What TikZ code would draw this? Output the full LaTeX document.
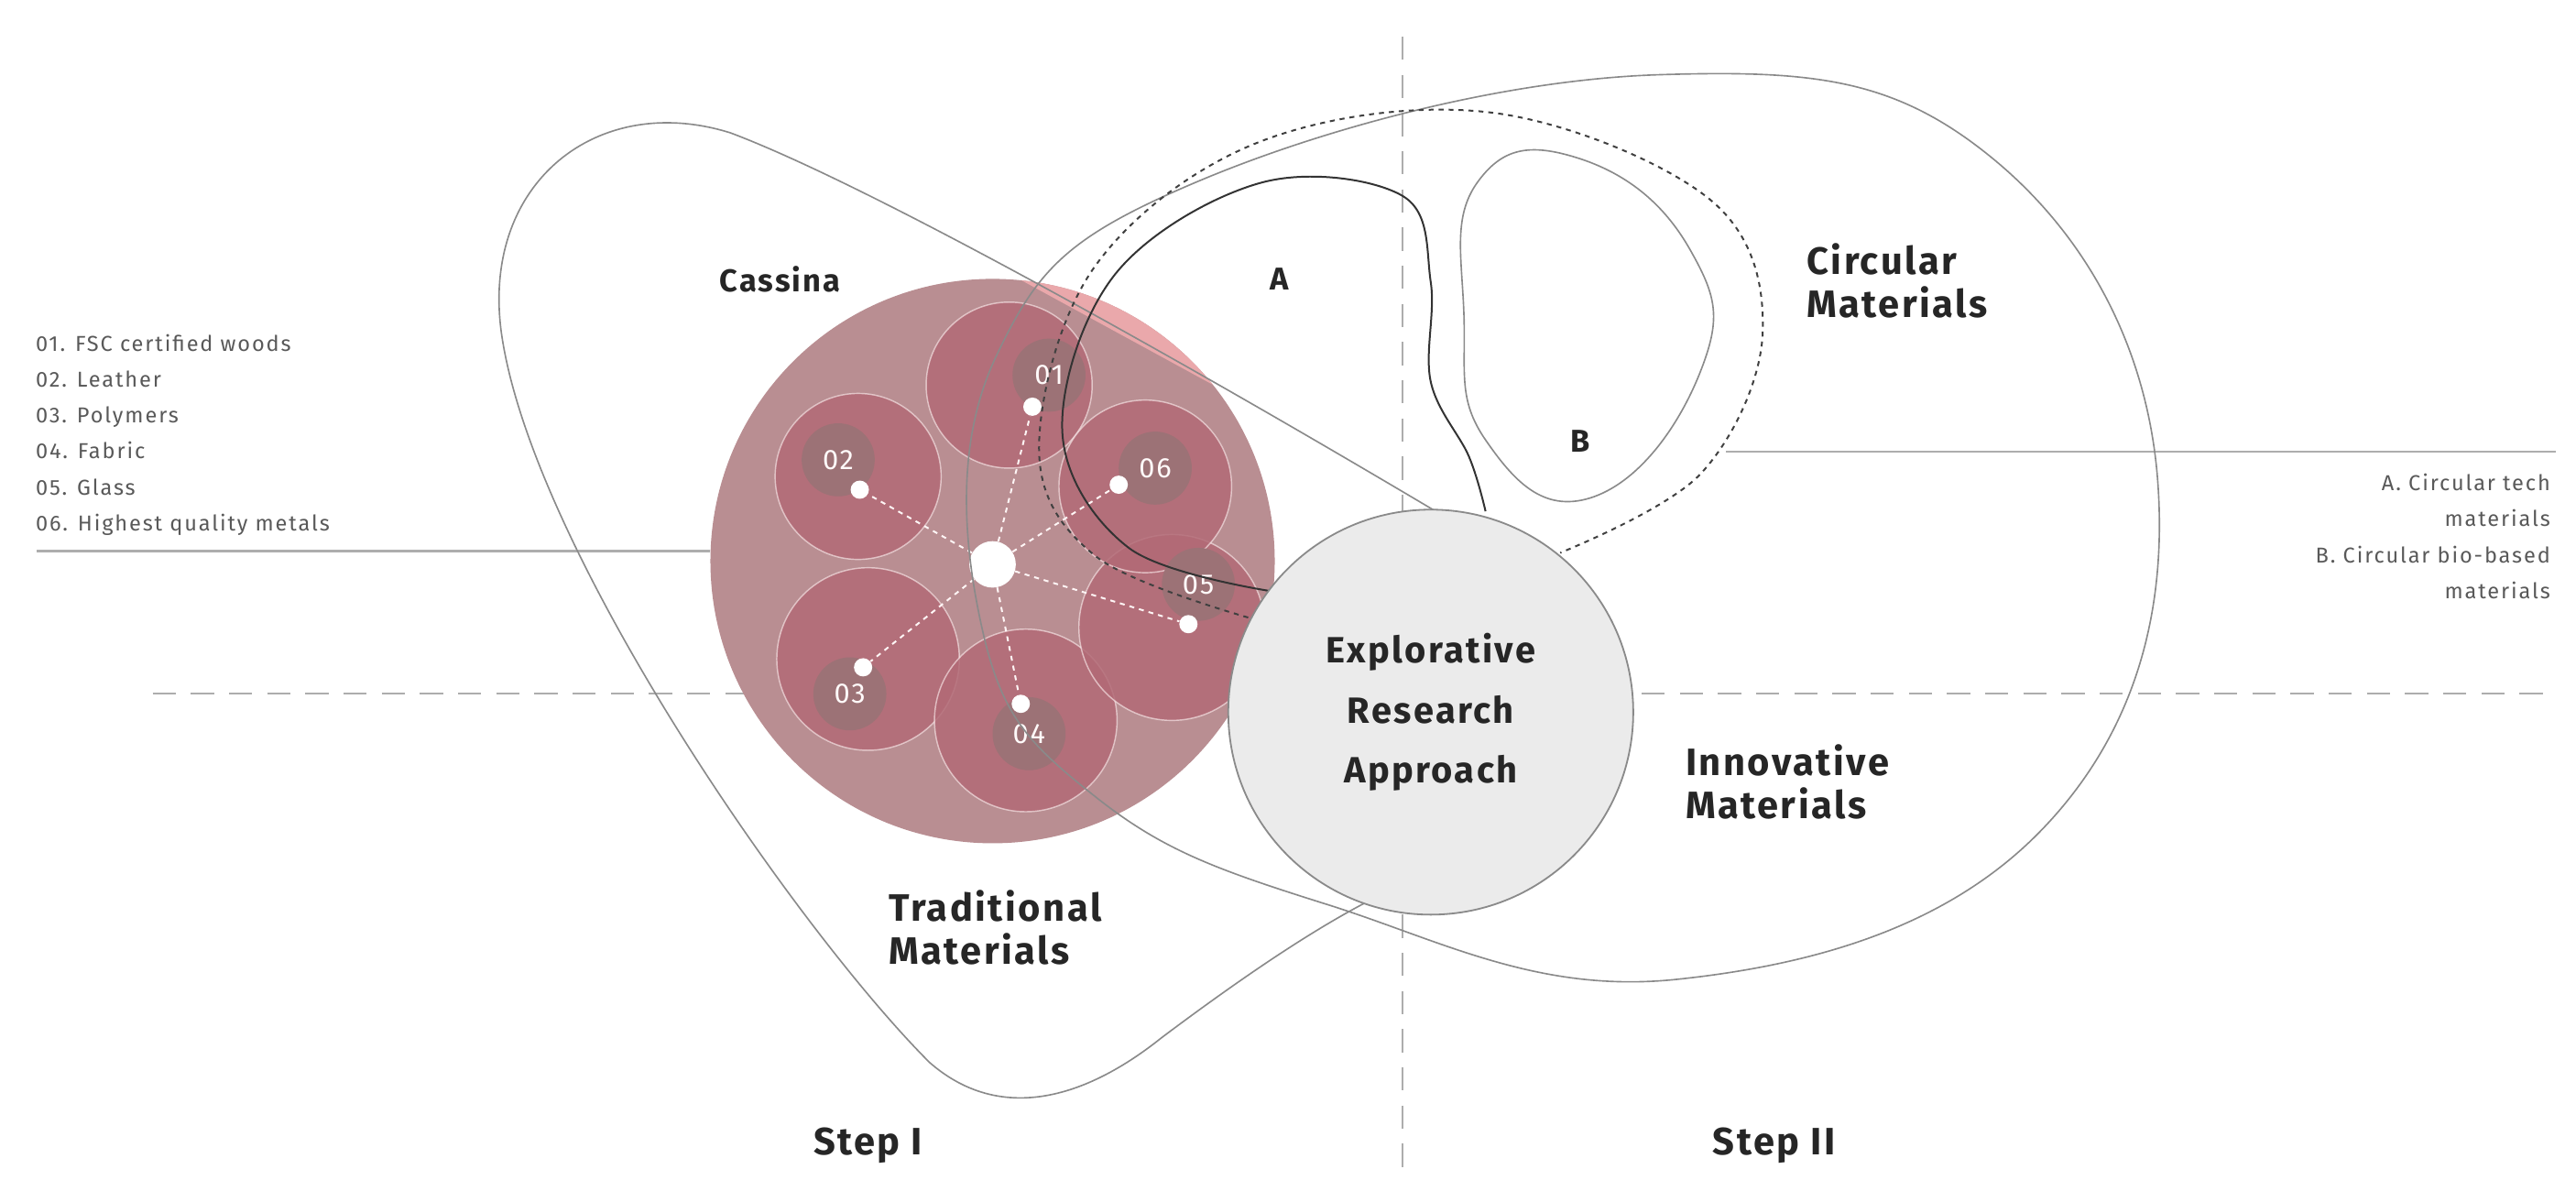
\documentclass[tikz,border=0pt]{standalone}
\usepackage{fontspec}
\setmainfont{Fira Sans}[LetterSpace=6]
\newfontfamily\lst{Fira Sans}[LetterSpace=8]
\usetikzlibrary{calc}
\definecolor{bigc}{HTML}{B98E92}
\definecolor{petal}{HTML}{B26A76}
\definecolor{numc}{HTML}{9C7276}
\definecolor{lpink}{HTML}{EAA8AB}
\definecolor{ln}{HTML}{8A8A8A}
\begin{document}
\begin{tikzpicture}[x=1pt,y=-1pt,
  outl/.style={draw=ln,line width=0.9pt},
  big/.style={font=\fontsize{23}{28}\selectfont\bfseries,text=black!85,align=left},
  lab/.style={font=\fontsize{19}{22}\selectfont\bfseries,text=black!85},
  small/.style={font=\lst\fontsize{13}{21.6}\selectfont,text=black!65},
  pet/.style={fill=petal,fill opacity=0.85,draw=white!80!pink,draw opacity=0.6,line width=0.8pt},
  num/.style={circle,fill=numc,minimum size=44pt,inner sep=0pt,text=white!90!pink,font=\fontsize{17}{17}\selectfont},
  dot/.style={circle,fill=white,inner sep=0pt,minimum size=11pt},
  spoke/.style={draw=white!85!pink,dashed,line width=1.1pt}]
\useasboundingbox (0,0) rectangle (1552,724);
% guide lines
\draw[ln!70,dashed,dash pattern=on 14pt off 9pt,line width=1.2pt] (92,418) -- (1540,418);
\draw[ln!70,dash pattern=on 14pt off 9pt,line width=1.2pt] (845,22) -- (845,712);
\draw[ln!70,line width=1.2pt] (22,332) -- (428,332);
\draw[ln!70,line width=1.2pt] (1040,272) -- (1540,272);
% big circle
\coordinate (C) at (598,338);
\fill[bigc] (C) circle (170);
\begin{scope}
\clip (C) circle (170);
\fill[lpink] (480,95) -- (865,305) -- (900,100) -- cycle;
\end{scope}
% petals
\foreach \p/\r in {(608,232)/50,(517,287)/50,(523,397)/55,(618,434)/55,(706,378)/56,(690,293)/52}
  \filldraw[pet] \p circle (\r);
\node[num] (n1) at (632,226) {01};
\node[num] (n2) at (505,277) {02};
\node[num] (n3) at (512,418) {03};
\node[num] (n4) at (620,442) {04};
\node[num] (n5) at (722,352) {05};
\node[num] (n6) at (696,282) {06};
\node[dot,minimum size=28pt] (c0) at (598,340) {};
\node[dot] (d1) at (622,245) {};
\node[dot] (d2) at (518,295) {};
\node[dot] (d3) at (520,402) {};
\node[dot] (d4) at (615,424) {};
\node[dot] (d5) at (716,376) {};
\node[dot] (d6) at (674,292) {};
\foreach \d in {d1,d2,d3,d4,d5,d6} \draw[spoke] (c0) -- (\d);
% step I blob
\draw[outl] (865,308) .. controls (700,210) and (520,110) .. (440,80)
  .. controls (360,55) and (290,110) .. (302,200)
  .. controls (320,330) and (480,560) .. (560,640)
  .. controls (600,675) and (650,665) .. (700,625)
  .. controls (760,580) and (800,555) .. (830,540);
% step II ellipse
\draw[outl] plot[smooth cycle,tension=0.7] coordinates {(600,215) (720,110) (1000,45) (1200,95) (1300,290) (1230,500) (1010,590) (800,545) (660,480) (592,380)};
% dashed curve
\draw[black!75,dashed,line width=1.1pt] plot[smooth,tension=0.6] coordinates {(752,372) (660,335) (626,270) (660,160) (760,85) (900,68) (1030,120) (1062,200) (1025,285) (940,333)};
% solid A curve
\draw[black!80,line width=1.1pt] plot[smooth,tension=0.6] coordinates {(765,356) (680,330) (640,260) (672,165) (760,110) (845,118) (862,170) (862,230) (885,275) (895,308)};
% B loop
\draw[outl] plot[smooth cycle,tension=0.8] coordinates {(890,110) (950,95) (1018,150) (1024,225) (958,300) (895,265) (882,190)};
% explorative circle
\node[circle,fill=black!8,draw=ln,line width=1pt,minimum size=244pt,align=center,inner sep=0pt,
  font=\fontsize{22}{36}\selectfont\bfseries,text=black!85] (era) at (862,429) {Explorative\\Research\\Approach};
% labels
\node[lab] (cas) at (470,168) {Cassina};
\node[lab] (la) at (771,168) {A};
\node[lab] (lb) at (952,266) {B};
\node[big,anchor=west] (circ) at (1085,169) {Circular\\[-2pt]Materials};
\node[big,anchor=west] (inn) at (1012,471) {Innovative\\[-2pt]Materials};
\node[big,anchor=west] (trad) at (532,559) {Traditional\\[-2pt]Materials};
\node[big] (s1) at (523,690) {Step I};
\node[big] (s2) at (1069,690) {Step II};
\node[small,anchor=north west,align=left] (list) at (18,198) {01. FSC certified woods\\02. Leather\\03. Polymers\\04. Fabric\\05. Glass\\06. Highest quality metals};
\node[small,anchor=north east,align=right] (leg) at (1540,282) {A. Circular tech\\materials\\B. Circular bio-based\\materials};
\end{tikzpicture}
\end{document}
